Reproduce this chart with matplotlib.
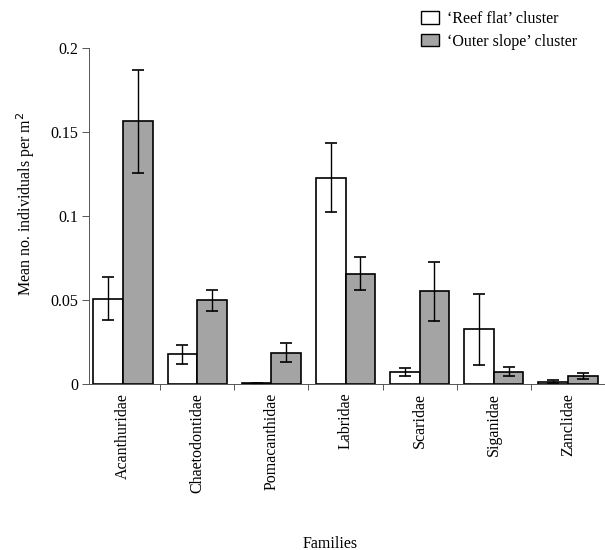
import numpy as np
import matplotlib.pyplot as plt
from matplotlib.patches import Patch
from matplotlib.ticker import FixedLocator

plt.rcParams['font.family'] = ['Liberation Serif', 'DejaVu Serif']

families = ["Acanthuridae", "Chaetodontidae", "Pomacanthidae", "Labridae",
            "Scaridae", "Siganidae", "Zanclidae"]
reef_flat = [0.051, 0.0178, 0.0005, 0.123, 0.0071, 0.0327, 0.0016]
reef_flat_err = [0.0127, 0.0057, 0.0001, 0.0207, 0.0024, 0.0210, 0.0010]
outer_slope = [0.1565, 0.0500, 0.0188, 0.0659, 0.0553, 0.0076, 0.0051]
outer_slope_err = [0.0307, 0.0063, 0.0055, 0.0096, 0.0177, 0.0028, 0.0017]
yticks = [0, 0.05, 0.1, 0.15, 0.2]
ytick_labels = ["0", "0.05", "0.1", "0.15", "0.2"]

gray = '#a4a4a4'
fig = plt.figure(figsize=(6.05, 5.5), dpi=100)
ax = fig.add_axes([89/605, 165.7/550, 516/605, 336/550])

x = np.arange(len(families))
w = 0.4
ekw = dict(ecolor='black', elinewidth=1.0, capsize=4, capthick=1.2)
ax.bar(x - w/2, reef_flat, w, color='white', edgecolor='black', linewidth=1.2,
       yerr=reef_flat_err, error_kw=ekw)
ax.bar(x + w/2, outer_slope, w, color=gray, edgecolor='black', linewidth=1.2,
       yerr=outer_slope_err, error_kw=ekw)

ax.set_xlim(-0.46, 6.5)
ax.set_ylim(0, 0.2)
ax.spines['top'].set_visible(False)
ax.spines['right'].set_visible(False)
for side in ['left', 'bottom']:
    ax.spines[side].set_linewidth(0.7)
    ax.spines[side].set_color('#555555')

ax.set_yticks(yticks)
ax.set_yticklabels(ytick_labels, fontsize=11.5)
ax.tick_params(axis='y', direction='out', length=5, width=0.7, color='#555555', pad=3)

ax.set_xticks(x)
ax.set_xticklabels(families, rotation=90, fontsize=11.5)
ax.tick_params(axis='x', which='major', length=0, pad=6)
ax.xaxis.set_minor_locator(FixedLocator(np.arange(0.5, 6, 1.0)))
ax.tick_params(axis='x', which='minor', direction='out', length=4, width=0.7, color='#555555')

ax.set_ylabel("Mean no. individuals per m$^2$", fontsize=11.5)
ax.yaxis.set_label_coords(-0.10, 0.537)
ax.set_xlabel("Families", fontsize=11.5)
ax.xaxis.set_label_coords(0.467, -0.45)

handles = [Patch(facecolor='white', edgecolor='black', linewidth=1.0),
           Patch(facecolor=gray, edgecolor='black', linewidth=1.0)]
labels = ["\u2018Reef flat\u2019 cluster", "\u2018Outer slope\u2019 cluster"]
fig.legend(handles, labels, loc='upper left', bbox_to_anchor=(410/605, 1.0),
           frameon=False, fontsize=11.5, handlelength=1.1, handleheight=0.85,
           handletextpad=0.5, labelspacing=0.4, borderaxespad=0.3)

fig.savefig("out.png", dpi=100)
